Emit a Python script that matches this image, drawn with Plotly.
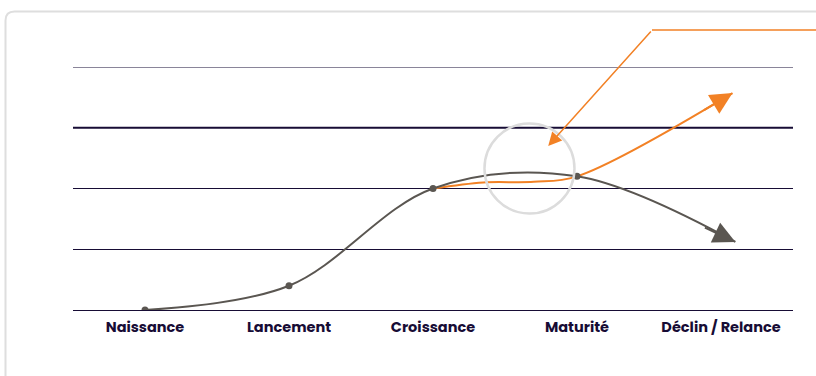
import plotly.graph_objects as go

categories = ["Naissance", "Lancement", "Croissance", "Maturité", "Déclin / Relance"]
cat_pos = [0, 1, 2, 3, 4]

gray_x = [0, 1, 2, 3, 4.1]
gray_y = [0, 0.4, 2, 2.2, 1.12]

orange_x = [2, 2.35, 2.7, 3, 4.08]
orange_y = [2, 2.1, 2.11, 2.2, 3.57]

marker_x = [0, 1, 2, 3]
marker_y = [0, 0.4, 2, 2.2]

GRAY = "#5a5651"
ORANGE = "#f28125"
NAVY = "#170c35"

W, H = 816, 376
ML, MR, MT, MB = 73, 23, 67, 66
PW, PH = W - ML - MR, H - MT - MB


def px(x):
    return (x - ML) / PW


def py(y):
    return (H - MB - y) / PH


fig = go.Figure()

fig.add_trace(go.Scatter(x=orange_x, y=orange_y, mode="lines",
                         line=dict(color=ORANGE, width=2, shape="spline", smoothing=1),
                         hoverinfo="skip", showlegend=False))
fig.add_trace(go.Scatter(x=gray_x, y=gray_y, mode="lines",
                         line=dict(color=GRAY, width=2, shape="spline", smoothing=1),
                         hoverinfo="skip", showlegend=False))
fig.add_trace(go.Scatter(x=marker_x, y=marker_y, mode="markers",
                         marker=dict(color=GRAY, size=7),
                         hoverinfo="skip", showlegend=False))

# arrow heads
fig.add_annotation(x=gray_x[-1], y=gray_y[-1], xref="x", yref="y", ax=-32, ay=-15,
                   showarrow=True, arrowhead=2, arrowsize=2.2, arrowwidth=2,
                   arrowcolor=GRAY, text="")
fig.add_annotation(x=orange_x[-1], y=orange_y[-1], xref="x", yref="y", ax=-30, ay=18,
                   showarrow=True, arrowhead=2, arrowsize=2.2, arrowwidth=2,
                   arrowcolor=ORANGE, text="")
# callout arrow
fig.add_annotation(x=2.8, y=2.7, xref="x", yref="y", ax=104, ay=-116,
                   showarrow=True, arrowhead=2, arrowsize=1.8, arrowwidth=1.5,
                   arrowcolor=ORANGE, text="")
fig.add_shape(type="line", xref="paper", yref="paper",
              x0=px(652), x1=px(830), y0=py(30), y1=py(30),
              line=dict(color=ORANGE, width=1.5))

# circle highlight
fig.add_shape(type="circle", xref="x", yref="y", xsizemode="pixel", ysizemode="pixel",
              xanchor=2.67, yanchor=2.33, x0=-45, x1=45, y0=-45, y1=45,
              line=dict(color="#dcdcdc", width=2.5))

# thicker grid line and top grid line
fig.add_shape(type="line", xref="paper", yref="y", x0=0, x1=1, y0=3, y1=3,
              line=dict(color=NAVY, width=2), layer="below")
fig.add_shape(type="line", xref="paper", yref="y", x0=0, x1=1, y0=4, y1=4,
              line=dict(color=NAVY, width=1), layer="below")

# card border
r = 9
x0, y0, x1, y1 = 5.5, 11.5, 830, 400
path = (f"M {px(x0)},{py(y1)} L {px(x0)},{py(y0 + r)} "
        f"Q {px(x0)},{py(y0)} {px(x0 + r)},{py(y0)} L {px(x1)},{py(y0)}")
fig.add_shape(type="path", xref="paper", yref="paper", path=path,
              line=dict(color="#dedede", width=2), layer="below")

fig.update_layout(
    width=W, height=H,
    margin=dict(l=ML, r=MR, t=MT, b=MB),
    paper_bgcolor="white", plot_bgcolor="white",
    showlegend=False,
    xaxis=dict(range=[-0.5, 4.5], tickmode="array", tickvals=cat_pos, ticktext=categories,
               showgrid=False, zeroline=False, showline=False,
               ticks="outside", ticklen=4, tickcolor="rgba(0,0,0,0)",
               tickfont=dict(family="Poppins, Inter, sans-serif", size=14.5, color=NAVY, weight=700),
               fixedrange=True),
    yaxis=dict(range=[0, 4], tickvals=[0, 1, 2, 3, 4], showticklabels=False,
               showgrid=True, gridcolor=NAVY, gridwidth=1,
               zeroline=True, zerolinecolor=NAVY, zerolinewidth=1.2,
               showline=False, fixedrange=True),
)

fig.write_html("out.html")
